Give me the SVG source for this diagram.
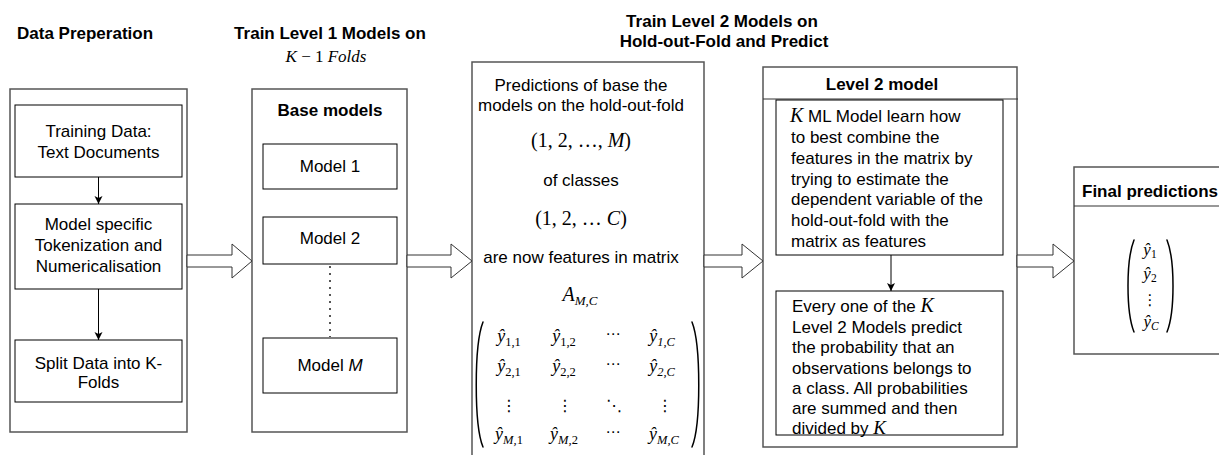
<svg xmlns="http://www.w3.org/2000/svg" width="1219" height="455" viewBox="0 0 1219 455">
  <style>
    .t{font-family:"Liberation Sans",Arial,Helvetica,sans-serif;font-size:17px;fill:#000}
    .c{text-anchor:middle}
    .b{font-weight:bold}
    .m{font-family:"Liberation Serif","DejaVu Serif",serif;font-style:italic}
    .mr{font-family:"Liberation Serif","DejaVu Serif",serif;font-style:normal}
    .sym{font-family:"DejaVu Serif","DejaVu Sans",serif;font-style:normal}
    .box{fill:#fff;stroke:#000;stroke-width:1}
    .outer{fill:#fff;stroke:#555;stroke-width:1.5}
    .blk{fill:#fff;stroke:#333;stroke-width:1}
    .link{fill:none;stroke:#000;stroke-width:1}
    .paren{fill:none;stroke:#000;stroke-width:1.5;stroke-linecap:round}
  </style>
  <defs>
    <marker id="arr" markerWidth="9" markerHeight="9" refX="8" refY="4.5" orient="auto" markerUnits="userSpaceOnUse">
      <path d="M0,0.5 L8,4.5 L0,8.5 L2,4.5 Z" fill="#000"/>
    </marker>
  </defs>
  <rect width="1219" height="455" fill="#fff"/>

  <!-- column titles -->
  <g id="titles">
    <text class="t b" x="17" y="39">Data Preperation</text>
    <text class="t b c" x="330" y="39">Train Level 1 Models on</text>
    <text class="m c" x="326" y="62" font-size="17">K <tspan class="mr">− 1</tspan> Folds</text>
    <text class="t b c" x="722" y="27">Train Level 2 Models on</text>
    <text class="t b c" x="724" y="47">Hold-out-Fold and Predict</text>
  </g>

  <!-- data preparation stage -->
  <g id="data-prep">
    <rect class="outer" x="10" y="89" width="177" height="343"/>
    <g id="training-data">
      <rect class="box" x="15" y="105" width="167" height="72"/>
      <text class="t c" x="98.5" y="137">Training Data:</text>
      <text class="t c" x="98.5" y="158">Text Documents</text>
    </g>
    <g id="tokenization">
      <rect class="box" x="15" y="204" width="167" height="85"/>
      <text class="t c" x="98.5" y="230">Model specific</text>
      <text class="t c" x="98.5" y="251">Tokenization and</text>
      <text class="t c" x="98.5" y="272">Numericalisation</text>
    </g>
    <g id="split-folds">
      <rect class="box" x="15" y="340" width="167" height="62"/>
      <text class="t c" x="98.5" y="369">Split Data into K-</text>
      <text class="t c" x="98.5" y="388">Folds</text>
    </g>
  </g>

  <!-- level 1 base models -->
  <g id="base-models">
    <rect class="outer" x="252" y="89" width="155" height="343"/>
    <text class="t b c" x="330" y="116">Base models</text>
    <g id="model-1">
      <rect class="box" x="263" y="144" width="134" height="45"/>
      <text class="t c" x="330" y="172">Model 1</text>
    </g>
    <g id="model-2">
      <rect class="box" x="263" y="217" width="134" height="47"/>
      <text class="t c" x="330" y="244">Model 2</text>
    </g>
    <g id="model-m">
      <rect class="box" x="263" y="338" width="134" height="55"/>
      <text class="t c" x="330" y="371">Model <tspan font-style="italic">M</tspan></text>
    </g>
  </g>

  <!-- hold-out-fold prediction matrix -->
  <g id="feature-matrix">
    <rect class="outer" x="472" y="62" width="232" height="420"/>
    <text class="t c" x="581" y="91">Predictions of base the</text>
    <text class="t c" x="581" y="111">models on the hold-out-fold</text>
    <text class="mr c" x="581" y="147" font-size="20">(1, 2, …, <tspan class="m">M</tspan>)</text>
    <text class="t c" x="581" y="186">of classes</text>
    <text class="mr c" x="581" y="225" font-size="20">(1, 2, … <tspan class="m">C</tspan>)</text>
    <text class="t c" x="581" y="263">are now features in matrix</text>
    <text class="m c" x="580" y="301" font-size="20">A<tspan font-size="13" dy="4">M,C</tspan></text>

    <path class="paren" d="M483,322 C474,345 474,425 483,447"/>
    <path class="paren" d="M692,322 C701,345 701,425 692,447"/>

    <g font-size="18">
      <text class="m c" x="509" y="342">ŷ<tspan class="mr" font-size="12.5" dy="4">1,1</tspan></text>
      <text class="m c" x="564" y="342">ŷ<tspan class="mr" font-size="12.5" dy="4">1,2</tspan></text>
      <text class="sym c" x="613" y="339" font-size="15">⋯</text>
      <text class="m c" x="662" y="342">ŷ<tspan font-size="12.5" dy="4">1,C</tspan></text>

      <text class="m c" x="509" y="372">ŷ<tspan class="mr" font-size="12.5" dy="4">2,1</tspan></text>
      <text class="m c" x="564" y="372">ŷ<tspan class="mr" font-size="12.5" dy="4">2,2</tspan></text>
      <text class="sym c" x="613" y="369" font-size="15">⋯</text>
      <text class="m c" x="662" y="372">ŷ<tspan font-size="12.5" dy="4">2,C</tspan></text>

      <text class="sym c" x="509" y="411" font-size="16">⋮</text>
      <text class="sym c" x="565" y="411" font-size="16">⋮</text>
      <text class="sym c" x="614" y="411" font-size="16">⋱</text>
      <text class="sym c" x="665" y="411" font-size="16">⋮</text>

      <text class="m c" x="509" y="440">ŷ<tspan font-size="12.5" dy="4">M,</tspan><tspan class="mr" font-size="12.5">1</tspan></text>
      <text class="m c" x="564" y="440">ŷ<tspan font-size="12.5" dy="4">M,</tspan><tspan class="mr" font-size="12.5">2</tspan></text>
      <text class="sym c" x="613" y="437" font-size="15">⋯</text>
      <text class="m c" x="664" y="440">ŷ<tspan font-size="12.5" dy="4">M,C</tspan></text>
    </g>
  </g>

  <!-- level 2 model -->
  <g id="level2-model">
    <rect class="outer" x="763" y="67" width="254" height="380"/>
    <line x1="763" y1="99" x2="1018" y2="99" stroke="#333" stroke-width="1.2"/>
    <text class="t b c" x="882" y="90">Level 2 model</text>
    <g id="level2-learn">
      <rect class="box" x="776" y="100" width="227" height="155"/>
      <text class="t" x="790" y="122"><tspan class="m" font-size="20">K</tspan> ML Model learn how</text>
      <text class="t" x="791" y="143">to best combine the</text>
      <text class="t" x="791" y="164">features in the matrix by</text>
      <text class="t" x="791" y="185">trying to estimate the</text>
      <text class="t" x="791" y="205">dependent variable of the</text>
      <text class="t" x="791" y="226">hold-out-fold with the</text>
      <text class="t" x="791" y="247">matrix as features</text>
    </g>
    <g id="level2-predict">
      <rect class="box" x="776" y="291" width="227" height="144"/>
      <text class="t" x="792" y="312">Every one of the <tspan class="m" font-size="20">K</tspan></text>
      <text class="t" x="792" y="333">Level 2 Models predict</text>
      <text class="t" x="792" y="353">the probability that an</text>
      <text class="t" x="792" y="374">observations belongs to</text>
      <text class="t" x="792" y="394">a class. All probabilities</text>
      <text class="t" x="792" y="414">are summed and then</text>
      <text class="t" x="792" y="434">divided by <tspan class="m" font-size="19">K</tspan></text>
    </g>
  </g>

  <!-- final predictions -->
  <g id="final-predictions">
    <rect class="outer" x="1074" y="167" width="170" height="187"/>
    <line x1="1074" y1="206" x2="1219" y2="206" stroke="#333" stroke-width="1.2"/>
    <text class="t b" x="1082" y="197">Final predictions</text>
    <path class="paren" d="M1134,240 C1126,260 1126,312 1134,332"/>
    <path class="paren" d="M1167,240 C1175,260 1175,312 1167,332"/>
    <g font-size="17">
      <text class="m c" x="1150" y="255">ŷ<tspan class="mr" font-size="11.5" dy="3">1</tspan></text>
      <text class="m c" x="1150" y="279">ŷ<tspan class="mr" font-size="11.5" dy="3">2</tspan></text>
      <text class="sym c" x="1150" y="305" font-size="15">⋮</text>
      <text class="m c" x="1151" y="327">ŷ<tspan font-size="11.5" dy="3">C</tspan></text>
    </g>
  </g>

  <!-- connectors -->
  <g id="connectors">
    <line class="link" x1="98.5" y1="177" x2="98.5" y2="204" marker-end="url(#arr)"/>
    <line class="link" x1="98.5" y1="289" x2="98.5" y2="340" marker-end="url(#arr)"/>
    <line class="link" x1="891" y1="255" x2="891" y2="291" marker-end="url(#arr)"/>
    <line x1="330" y1="266" x2="330" y2="337" stroke="#555" stroke-width="2" stroke-dasharray="2 5"/>
    <polygon class="blk" points="187,255 232,255 232,244 252,261 232,278 232,267 187,267"/>
    <polygon class="blk" points="407,255 451,255 451,244 472,261 451,278 451,267 407,267"/>
    <polygon class="blk" points="704,255 742,255 742,244 763,261 742,278 742,267 704,267"/>
    <polygon class="blk" points="1017,255 1053,255 1053,244 1074,261 1053,278 1053,267 1017,267"/>
  </g>
</svg>
